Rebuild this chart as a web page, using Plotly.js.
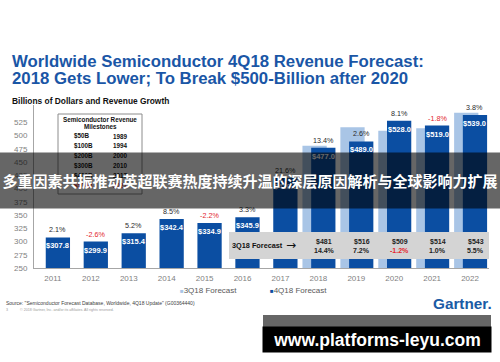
<!DOCTYPE html>
<html><head><meta charset="utf-8">
<script src="https://cdn.plot.ly/plotly-3.0.1.min.js"></script>
<style>html,body{margin:0;padding:0;background:#fff}#chart{width:500px;height:362px}</style>
</head><body><div id="chart"></div>
<script>
// ---- data ----
const years = [2011, 2012, 2013, 2014, 2015, 2016, 2017, 2018, 2019, 2020, 2021, 2022];
const revenue4Q18 = [307.8, 299.9, 315.4, 342.4, 334.9, 345.9, 420.6, 477.0, 489.0, 528.0, 519.0, 539.0];
const growth4Q18 = [2.1, -2.6, 5.2, 8.5, -2.2, 3.3, 21.6, 13.4, 2.6, 8.1, -1.8, 3.8];
const years3Q18 = [2018, 2019, 2020, 2021, 2022];
const revenue3Q18 = [481, 516, 509, 514, 543];
const growth3Q18 = [14.4, 7.2, -1.2, 1.0, 5.5];
const milestoneAmounts = ['$50B', '$100B', '$200B', '$300B', '$400B', '$500B'];
const milestoneYears = ['1989', '1994', '2000', '2010', '2017', '2021'];
const yTicks = [250, 275, 300, 325, 350, 375, 400, 425, 450, 475, 500, 525];

// ---- style ----
const FONT = '"Liberation Sans", Arial, sans-serif';
const DARK = '#0b4ea2', LIGHT = '#a9c5e6', RED = '#e3262d', TITLE = '#1a56a6';
const L = 34, R = 489, T = 105, B = 268;
const px = p => (p - L) / (R - L);
const py = p => (B - p) / (B - T);
const pct = v => v.toFixed(1) + '%';
const DARK_SHIFT = 0.13;

const traces = [
  {type: 'bar', name: '3Q18 Forecast', x: years3Q18, y: revenue3Q18, offset: -0.42, width: 0.64,
   marker: {color: LIGHT}, showlegend: false, hoverinfo: 'x+y'},
  {type: 'bar', name: '4Q18 Forecast', x: years, y: revenue4Q18, offset: -0.19, width: 0.64,
   marker: {color: DARK}, showlegend: false, hoverinfo: 'x+y'}
];

const ann = [];
// line 2 of title
ann.push({xref: 'paper', yref: 'paper', x: px(12), xshift: -2, y: py(78.5), xanchor: 'left', yanchor: 'middle',
  text: '<b>2018 Gets Lower; To Break $500-Billion after 2020</b>', showarrow: false,
  font: {family: FONT, size: 16.8, color: TITLE}});
// subtitle
ann.push({xref: 'paper', yref: 'paper', x: px(12), xshift: -2, y: py(101), xanchor: 'left', yanchor: 'middle',
  text: '<b>Billions of Dollars and Revenue Growth</b>', showarrow: false,
  font: {family: FONT, size: 8.4, color: '#111'}});

// bar labels
years.forEach((yr, i) => {
  ann.push({xref: 'x', yref: 'y', x: yr + DARK_SHIFT, y: revenue4Q18[i], yanchor: 'bottom', yshift: 1,
    text: pct(growth4Q18[i]), showarrow: false,
    font: {family: FONT, size: 7.2, color: growth4Q18[i] < 0 ? RED : '#2a2a2a'}});
  ann.push({xref: 'x', yref: 'y', x: yr + DARK_SHIFT, y: revenue4Q18[i], yanchor: 'top', yshift: -2,
    text: '<b>$' + revenue4Q18[i].toFixed(1) + '</b>', showarrow: false,
    font: {family: FONT, size: 7.5, color: '#fff'}});
});

// milestones box text
ann.push({xref: 'paper', yref: 'paper', x: px(100), y: py(119.3), xanchor: 'center', yanchor: 'middle',
  text: '<b>Semiconductor Revenue</b>', showarrow: false, font: {family: FONT, size: 6.3, color: '#111'}});
ann.push({xref: 'paper', yref: 'paper', x: px(100), y: py(126.7), xanchor: 'center', yanchor: 'middle',
  text: '<b>Milestones</b>', showarrow: false, font: {family: FONT, size: 6.3, color: '#111'}});
milestoneAmounts.forEach((a, i) => {
  const col = i === milestoneAmounts.length - 1 ? RED : '#111';
  ann.push({xref: 'paper', yref: 'paper', x: px(74), xshift: -2, y: py(136 + 9.95 * i), xanchor: 'left', yanchor: 'middle',
    text: '<b>' + a + '</b>', showarrow: false, font: {family: FONT, size: 6.3, color: col}});
  ann.push({xref: 'paper', yref: 'paper', x: px(112.5), xshift: -2, y: py(136 + 9.95 * i), xanchor: 'left', yanchor: 'middle',
    text: '<b>' + milestoneYears[i] + '</b>', showarrow: false, font: {family: FONT, size: 6.3, color: col}});
});

// 3Q18 forecast table
ann.push({xref: 'paper', yref: 'paper', x: px(232), xshift: -2, y: py(245.7), xanchor: 'left', yanchor: 'middle',
  text: '<b>3Q18 Forecast</b>', showarrow: false, font: {family: FONT, size: 7.3, color: '#111'}});
ann.push({xref: 'paper', yref: 'paper', x: px(291), y: py(245), xanchor: 'center', yanchor: 'middle',
  text: '→', showarrow: false, font: {family: 'DejaVu Sans, sans-serif', size: 12, color: '#111'}});
years3Q18.forEach((yr, i) => {
  ann.push({xref: 'x', yref: 'paper', x: yr + 0.15, y: py(241.7), xanchor: 'center', yanchor: 'middle',
    text: '<b>$' + revenue3Q18[i] + '</b>', showarrow: false, font: {family: FONT, size: 7, color: '#222'}});
  ann.push({xref: 'x', yref: 'paper', x: yr + 0.15, y: py(250), xanchor: 'center', yanchor: 'middle',
    text: '<b>' + pct(growth3Q18[i]) + '</b>', showarrow: false,
    font: {family: FONT, size: 7, color: growth3Q18[i] < 0 ? RED : '#222'}});
});

// legend
ann.push({xref: 'paper', yref: 'paper', x: px(180), xshift: -2, y: py(290), xanchor: 'left', yanchor: 'middle',
  text: '<span style="color:' + LIGHT + ';font-size:6px">■</span>3Q18 Forecast', showarrow: false,
  font: {family: FONT, size: 8, color: '#595959'}});
ann.push({xref: 'paper', yref: 'paper', x: px(270), xshift: -2, y: py(290), xanchor: 'left', yanchor: 'middle',
  text: '<span style="color:' + DARK + ';font-size:6px">■</span>4Q18 Forecast', showarrow: false,
  font: {family: FONT, size: 8, color: '#595959'}});

// footer
ann.push({xref: 'paper', yref: 'paper', x: px(6), xshift: -2, y: py(302.7), xanchor: 'left', yanchor: 'middle',
  text: 'Source: "Semiconductor Forecast Database, Worldwide, 4Q18 Update" (G00364440)', showarrow: false,
  font: {family: FONT, size: 5, color: '#404040'}});
ann.push({xref: 'paper', yref: 'paper', x: px(6), xshift: -2, y: py(310), xanchor: 'left', yanchor: 'middle',
  text: '3', showarrow: false, font: {family: FONT, size: 3.6, color: '#9a9a9a'}});
ann.push({xref: 'paper', yref: 'paper', x: px(20), xshift: -2, y: py(310), xanchor: 'left', yanchor: 'middle',
  text: '© 2018 Gartner, Inc. and/or its affiliates. All rights reserved.', showarrow: false,
  font: {family: FONT, size: 3.6, color: '#9a9a9a'}});
ann.push({xref: 'paper', yref: 'paper', x: px(492), xshift: 2, y: py(303), xanchor: 'right', yanchor: 'middle',
  text: '<b>Gartner.</b>', showarrow: false, font: {family: FONT, size: 15.3, color: '#1a5ba5'}});

// overlay banners (drawn last so they cover the chart)
ann.push({xref: 'paper', yref: 'paper', x: px(250), y: py(180.5), xanchor: 'center', yanchor: 'middle',
  width: 500, height: 55, borderpad: 0, bgcolor: 'rgba(0,0,0,0.6)', valign: 'middle',
  text: '<b>多重因素共振推动英超联赛热度持续升温的深层原因解析与全球影响力扩展</b>', showarrow: false,
  font: {family: '"Noto Sans CJK SC", sans-serif', size: 15, color: '#fff'}});
ann.push({xref: 'paper', yref: 'paper', x: px(377), y: py(339.5), xanchor: 'center', yanchor: 'middle',
  width: 228, height: 25, borderpad: 0, bgcolor: '#000', valign: 'middle',
  text: '<b>www.platforms-leyu.com</b>', showarrow: false,
  font: {family: FONT, size: 17.5, color: '#fff'}});

const shapes = [
  {type: 'rect', xref: 'paper', yref: 'paper', x0: px(58), x1: px(142), y0: py(194), y1: py(114),
   line: {color: '#8c8c8c', width: 1}, fillcolor: 'rgba(255,255,255,0)', layer: 'above'},
  {type: 'rect', xref: 'paper', yref: 'paper', x0: px(229), x1: px(489), y0: py(259), y1: py(232),
   line: {width: 0}, fillcolor: '#d4d4d4', layer: 'above'},
  {type: 'rect', xref: 'paper', yref: 'paper', x0: px(263), x1: px(491), y0: py(327), y1: py(315),
   line: {width: 0}, fillcolor: '#666666', layer: 'above'}
];

const layout = {
  width: 500, height: 362,
  margin: {l: L, r: 500 - R, t: T, b: 362 - B, pad: 0},
  paper_bgcolor: '#fff', plot_bgcolor: '#fff',
  barmode: 'overlay', showlegend: false,
  title: {text: '<b>Worldwide Semiconductor 4Q18 Revenue Forecast:</b>', xref: 'container', yref: 'container',
    x: 12 / 500, xanchor: 'left', y: 1 - 61 / 362, yanchor: 'middle',
    font: {family: FONT, size: 16.8, color: TITLE}},
  xaxis: {range: [2010.5, 2022.5], tickvals: years, ticktext: years.map(String), showgrid: false, zeroline: false,
    showline: true, linecolor: '#a6a6a6', linewidth: 1, ticks: '', ticklabelstandoff: 2,
    tickfont: {family: FONT, size: 8, color: '#7f7f7f'}, fixedrange: true},
  yaxis: {range: [250, 557.8], tickvals: yTicks, showgrid: false, zeroline: false,
    showline: true, linecolor: '#a6a6a6', linewidth: 1, ticks: '', ticklabelstandoff: 4,
    tickfont: {family: FONT, size: 8, color: '#7f7f7f'}, fixedrange: true},
  annotations: ann, shapes: shapes
};

Plotly.newPlot('chart', traces, layout, {displayModeBar: false, staticPlot: true});
</script>
</body></html>
